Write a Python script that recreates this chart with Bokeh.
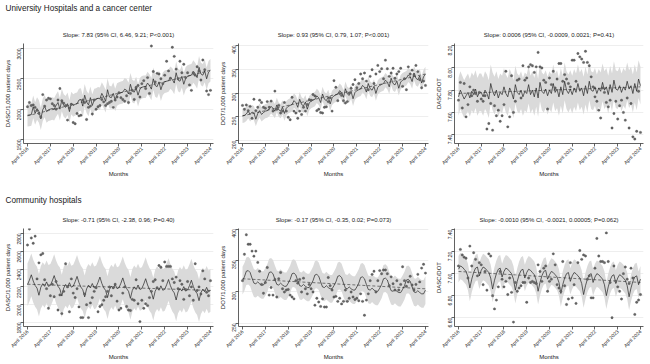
import math
import numpy as np
from bokeh.plotting import figure
from bokeh.layouts import column, row
from bokeh.models import FixedTicker, Label, Range1d, NumeralTickFormatter
from bokeh.embed import file_html
from bokeh.resources import INLINE

FONT = "Liberation Sans"

# ---------------- data ----------------
months = list(range(97))  # April 2016 .. April 2024
tick_months = [0, 12, 24, 36, 48, 60, 72, 84, 96]
tick_labels = ["April 2016", "April 2017", "April 2018", "April 2019", "April 2020",
               "April 2021", "April 2022", "April 2023", "April 2024"]
trend_x = [0, 96]

section_titles = ["University Hospitals and a cancer center", "Community hospitals"]

# University hospitals - DASC / 1,000 patient days
uh_dasc_title = "Slope: 7.83 (95% CI, 6.46, 9.21; P<0.001)"
uh_dasc_obs = [
    2040, 2110, 2060, 2070, 2030, 1980, 1930, 1870, 2240, 2050, 2150, 2180,
    2170, 2090, 2060, 2000, 2150, 2340, 2140, 2100, 2060, 1820, 2020, 2080,
    1780, 1760, 1930, 1890, 1900, 2150, 2110, 1830, 2030, 2050, 1920, 2150,
    2000, 2040, 2060, 2160, 2120, 2060, 2090, 2110, 2130, 2030, 2150, 2200,
    2270, 2190, 2160, 2130, 2220, 2110, 2260, 2310, 2160, 2360, 2390, 2200,
    2420, 2470, 2340, 2520, 2260, 3040, 2620, 2450, 2590, 2580, 2500, 2420,
    2560, 2790, 2630, 2510, 3020, 2870, 2660, 2500, 2790, 2600, 2740, 2520,
    2600, 2400, 2310, 2600, 2560, 2700, 2630, 2480, 2810, 2650, 2300, 2240,
    2310]
uh_dasc_fit = [
    1900, 1905, 1910, 2040, 1930, 2010, 1960, 1840, 1990, 2050, 1960, 1990,
    2000, 2010, 2000, 2060, 2110, 2000, 2150, 2060, 2030, 2090, 1960, 2100,
    2060, 2080, 2090, 2150, 2160, 2050, 2230, 2120, 2070, 2190, 2060, 2150,
    2160, 2180, 2170, 2260, 2200, 2130, 2320, 2200, 2190, 2260, 2150, 2240,
    2260, 2270, 2280, 2330, 2310, 2250, 2410, 2300, 2280, 2350, 2230, 2330,
    2360, 2370, 2370, 2430, 2390, 2330, 2500, 2390, 2370, 2450, 2320, 2420,
    2450, 2460, 2470, 2520, 2490, 2430, 2600, 2480, 2460, 2540, 2410, 2510,
    2540, 2550, 2560, 2620, 2580, 2520, 2690, 2580, 2560, 2630, 2500, 2610,
    2640]
uh_dasc_ci = 185
uh_dasc_trend = [1890, 2640]
uh_dasc_yticks = [1500, 2000, 2500, 3000]

# University hospitals - DOT / 1,000 patient days
uh_dot_title = "Slope: 0.93 (95% CI, 0.79, 1.07; P<0.001)"
uh_dot_obs = [
    274, 266, 275, 263, 272, 247, 287, 263, 270, 285, 280, 270,
    268, 282, 270, 283, 262, 304, 266, 274, 258, 262, 280, 262,
    249, 244, 291, 262, 258, 247, 262, 255, 270, 262, 276, 286,
    285, 297, 294, 263, 266, 259, 258, 270, 271, 282, 290, 262,
    326, 312, 284, 299, 295, 284, 279, 282, 300, 310, 318, 328,
    311, 320, 340, 330, 342, 325, 307, 335, 349, 320, 340, 358,
    345, 351, 330, 369, 351, 335, 342, 352, 331, 340, 345, 352,
    314, 330, 307, 355, 340, 348, 338, 358, 345, 328, 311, 325,
    316]
uh_dot_fit = [
    252, 253, 256, 262, 255, 260, 258, 245, 257, 263, 255, 259,
    262, 263, 266, 272, 268, 262, 275, 265, 262, 270, 257, 268,
    272, 274, 276, 284, 280, 270, 287, 276, 273, 281, 266, 279,
    283, 285, 287, 294, 290, 280, 298, 287, 284, 292, 277, 290,
    294, 296, 298, 305, 301, 291, 309, 298, 295, 303, 288, 301,
    305, 307, 309, 316, 312, 302, 320, 309, 306, 314, 299, 312,
    316, 318, 320, 327, 323, 313, 331, 320, 317, 325, 310, 323,
    327, 329, 331, 338, 334, 324, 342, 331, 328, 336, 321, 334,
    340]
uh_dot_ci = 15
uh_dot_trend = [252, 340]
uh_dot_yticks = [200, 250, 300, 350, 400]

# University hospitals - DASC/DOT
uh_ratio_title = "Slope: 0.0006 (95% CI, -0.0009, 0.0021; P=0.41)"
uh_ratio_obs = [
    7.71, 7.87, 7.64, 7.86, 7.56, 7.67, 7.83, 7.75, 7.80, 7.77, 7.70, 7.78,
    7.72, 7.70, 7.75, 7.45, 7.50, 7.68, 7.44, 7.66, 7.57, 7.62, 7.52, 7.57,
    7.67, 7.97, 7.47, 7.56, 7.93, 7.60, 7.70, 7.89, 7.90, 7.73, 8.02, 7.89,
    7.91, 8.01, 8.03, 8.02, 7.96, 8.01, 8.14, 8.01, 8.00, 7.89, 7.87, 7.63,
    7.91, 7.85, 7.97, 7.82, 7.90, 8.04, 8.04, 7.88, 7.94, 7.90, 7.86, 7.83,
    8.07, 8.07, 7.88, 8.13, 8.10, 8.08, 8.05, 8.15, 8.05, 8.02, 7.92, 7.83,
    7.74, 7.70, 7.62, 7.55, 7.82, 7.78, 7.69, 7.65, 7.71, 7.46, 7.59, 7.70,
    7.54, 7.66, 7.71, 7.60, 7.53, 7.73, 7.46, 7.68, 7.38, 7.36, 7.43, 7.79,
    7.42]
uh_ratio_fit = [
    7.74, 7.80, 7.76, 7.72, 7.75, 7.78, 7.73, 7.79, 7.76, 7.81, 7.74, 7.78,
    7.78, 7.74, 7.80, 7.77, 7.72, 7.86, 7.79, 7.75, 7.80, 7.73, 7.78, 7.76,
    7.83, 7.77, 7.74, 7.82, 7.78, 7.72, 7.85, 7.78, 7.76, 7.80, 7.74, 7.79,
    7.77, 7.85, 7.76, 7.80, 7.74, 7.82, 7.73, 7.87, 7.79, 7.77, 7.81, 7.75,
    7.80, 7.77, 7.86, 7.78, 7.81, 7.74, 7.83, 7.76, 7.88, 7.80, 7.77, 7.81,
    7.76, 7.82, 7.78, 7.86, 7.79, 7.82, 7.75, 7.84, 7.77, 7.88, 7.80, 7.79,
    7.83, 7.77, 7.82, 7.79, 7.87, 7.80, 7.83, 7.76, 7.85, 7.78, 7.89, 7.81,
    7.80, 7.84, 7.78, 7.83, 7.80, 7.88, 7.81, 7.84, 7.77, 7.86, 7.79, 7.90,
    7.84]
uh_ratio_ci = 0.17
uh_ratio_trend = [7.77, 7.83]
uh_ratio_yticks = [7.4, 7.6, 7.8, 8.0, 8.2]

# Community hospitals - DASC / 1,000 patient days
ch_dasc_title = "Slope: -0.71 (95% CI, -2.38, 0.96; P=0.40)"
ch_dasc_obs = [
    2670, 2850, 2750, 2690, 2770, 2290, 2470, 2560, 2575, 2280, 2180, 1960,
    2100, 2230, 2090, 2260, 1940, 2110, 1900, 2150, 2460, 2200, 1920, 2290,
    2130, 2080, 2180, 1975, 1855, 1855, 2120, 2000, 1855, 2020, 2080, 2150,
    2190, 1920, 1980, 2000, 2050, 2090, 2150, 2200, 2100, 2190, 2230, 2040,
    1940, 1960, 2130, 2200, 1980, 1940, 1935, 2060, 2050, 2280, 2010, 1810,
    2050, 1960, 2010, 1990, 2080, 2150, 2260, 2280, 2190, 2440, 2420, 2270,
    2480, 2430, 2430, 2430, 2290, 2250, 2310, 2180, 2270, 2230, 2060, 2170,
    2260, 2100, 2200, 2050, 2460, 2160, 2200, 2120, 2380, 2290, 2140, 2100,
    2270]
ch_dasc_fit = [
    2226, 2276, 2336, 2266, 2216, 2186, 2106, 2196, 2236, 2206, 2256, 2206,
    2217, 2267, 2327, 2257, 2207, 2177, 2097, 2187, 2227, 2197, 2247, 2197,
    2208, 2258, 2318, 2248, 2198, 2168, 2088, 2178, 2218, 2188, 2238, 2188,
    2200, 2250, 2310, 2240, 2190, 2160, 2080, 2170, 2210, 2180, 2230, 2180,
    2191, 2241, 2301, 2231, 2181, 2151, 2071, 2161, 2201, 2171, 2221, 2171,
    2182, 2232, 2292, 2222, 2172, 2142, 2062, 2152, 2192, 2162, 2212, 2162,
    2173, 2223, 2283, 2213, 2163, 2133, 2053, 2143, 2183, 2153, 2203, 2153,
    2165, 2215, 2275, 2205, 2155, 2125, 2045, 2135, 2175, 2145, 2195, 2145,
    2160]
ch_dasc_ci = 240
ch_dasc_trend = [2230, 2160]
ch_dasc_yticks = [1800, 2000, 2200, 2400, 2600, 2800]

# Community hospitals - DOT / 1,000 patient days
ch_dot_title = "Slope: -0.17 (95% CI, -0.35, 0.02; P=0.073)"
ch_dot_obs = [
    318, 360, 391, 376, 376, 365, 357, 365, 347, 333, 312, 298,
    315, 339, 295, 307, 295, 320, 292, 321, 331, 305, 300, 303,
    304, 295, 292, 289, 318, 314, 320, 300, 322, 305, 297, 312,
    305, 300, 279, 290, 284, 277, 289, 276, 276, 323, 310, 303,
    292, 293, 285, 290, 281, 285, 303, 285, 290, 300, 292, 288,
    290, 286, 297, 285, 263, 287, 297, 318, 328, 333, 300, 318,
    334, 329, 335, 335, 329, 310, 324, 313, 303, 318, 303, 312,
    340, 318, 309, 316, 325, 311, 303, 312, 328, 316, 338, 344,
    330]
ch_dot_fit = [
    318, 324, 333, 334, 331, 322, 314, 313, 316, 313, 311, 311,
    316, 322, 331, 332, 329, 320, 312, 311, 314, 311, 309, 309,
    314, 320, 329, 330, 327, 318, 310, 309, 312, 309, 307, 307,
    312, 318, 327, 328, 325, 316, 308, 307, 310, 307, 305, 305,
    310, 316, 325, 326, 323, 314, 306, 305, 308, 305, 303, 303,
    308, 314, 323, 324, 321, 312, 304, 303, 306, 303, 301, 301,
    306, 312, 321, 322, 319, 310, 302, 301, 304, 301, 299, 299,
    304, 310, 319, 320, 317, 308, 300, 299, 302, 299, 297, 297,
    303]
ch_dot_ci = 22
ch_dot_trend = [321, 305]
ch_dot_yticks = [250, 300, 350, 400]

# Community hospitals - DASC/DOT
ch_ratio_title = "Slope: -0.0010 (95% CI, -0.0021, 0.00005; P=0.062)"
ch_ratio_obs = [
    7.07, 7.22, 7.17, 7.15, 7.14, 6.96, 7.25, 7.07, 7.19, 7.13, 6.98, 7.10,
    7.08, 6.90, 7.02, 6.85, 7.18, 7.16, 6.80, 6.68, 6.76, 6.88, 7.02, 6.95,
    6.88, 6.93, 6.81, 6.96, 6.83, 6.56, 6.92, 6.84, 6.87, 6.89, 6.92, 6.92,
    6.74, 6.96, 6.92, 6.93, 6.92, 6.91, 7.08, 7.02, 6.93, 7.05, 7.07, 6.84,
    6.93, 6.95, 7.18, 7.08, 6.90, 6.87, 6.84, 7.11, 6.89, 6.72, 6.77, 7.10,
    6.78, 6.90, 6.73, 7.10, 7.21, 7.13, 7.17, 7.16, 6.95, 6.98, 6.78, 6.78,
    7.05, 7.32, 7.16, 7.11, 7.11, 7.10, 7.37, 7.11, 6.92, 6.60, 7.07, 6.93,
    6.88, 6.84, 6.77, 7.00, 7.06, 6.95, 6.91, 7.05, 6.96, 6.63, 6.74, 6.76,
    6.81]
ch_ratio_fit = [
    7.04, 7.07, 7.06, 7.04, 7.02, 6.97, 6.87, 6.95, 7.01, 7.05, 7.06, 6.98,
    7.03, 7.06, 7.05, 7.03, 7.01, 6.96, 6.86, 6.94, 7.00, 7.04, 7.05, 6.97,
    7.02, 7.05, 7.04, 7.02, 7.00, 6.95, 6.85, 6.93, 6.99, 7.03, 7.04, 6.96,
    7.01, 7.04, 7.03, 7.01, 6.99, 6.94, 6.84, 6.92, 6.98, 7.02, 7.03, 6.95,
    6.99, 7.02, 7.01, 6.99, 6.97, 6.92, 6.82, 6.90, 6.96, 7.00, 7.01, 6.93,
    6.98, 7.01, 7.00, 6.98, 6.96, 6.91, 6.81, 6.89, 6.95, 6.99, 7.00, 6.92,
    6.97, 7.00, 6.99, 6.97, 6.95, 6.90, 6.80, 6.88, 6.94, 6.98, 6.99, 6.91,
    6.96, 6.99, 6.98, 6.96, 6.94, 6.89, 6.79, 6.87, 6.93, 6.97, 6.98, 6.90,
    6.95]
ch_ratio_ci = 0.12
ch_ratio_trend = [7.02, 6.92]
ch_ratio_yticks = [6.6, 6.8, 7.0, 7.2, 7.4]

# ---------------- drawing ----------------
X_RANGE = (-2.1, 97.6)


def make_panel(title, obs, fit, ci, trend, yticks, yrange, ylabel, fmt,
               width, height, left, right, top, bottom, standoff):
    p = figure(width=width, height=height, x_range=Range1d(*X_RANGE),
               y_range=Range1d(*yrange), output_backend="svg",
               toolbar_location=None, min_border_left=left,
               min_border_right=right, min_border_top=top,
               min_border_bottom=bottom, title=title,
               outline_line_color=None, background_fill_color="white",
               border_fill_color="white")
    p.title.align = "center"
    p.title.text_font = FONT
    p.title.text_font_size = "6px"
    p.title.text_font_style = "normal"
    p.title.text_color = "#1a1a1a"
    p.title.standoff = standoff

    fit_arr = np.array(fit, dtype=float)
    p.varea(x=months, y1=fit_arr - ci, y2=fit_arr + ci,
            fill_color="#dadada", fill_alpha=1.0)
    p.line(x=trend_x, y=trend, line_color="#444444", line_width=0.7,
           line_dash="3 2")
    p.line(x=months, y=fit, line_color="#222222", line_width=0.7)
    p.scatter(x=months, y=obs, size=2.4, fill_color="#666666",
              line_color="#444444", line_width=0.3)

    xa = p.xaxis[0]
    xa.ticker = FixedTicker(ticks=tick_months)
    xa.major_label_overrides = {m: lab for m, lab in zip(tick_months, tick_labels)}
    xa.major_label_orientation = math.pi / 4
    xa.axis_label = "Months"

    ya = p.yaxis[0]
    ya.ticker = FixedTicker(ticks=yticks)
    ya.formatter = NumeralTickFormatter(format=fmt)
    ya.major_label_orientation = math.pi / 2
    ya.axis_label = ylabel

    for ax in (xa, ya):
        ax.axis_line_color = "#3a3a3a"
        ax.axis_line_width = 0.8
        ax.major_tick_line_color = "#3a3a3a"
        ax.major_tick_line_width = 0.8
        ax.major_tick_out = 3
        ax.major_tick_in = 0
        ax.minor_tick_line_color = None
        ax.major_label_text_font = FONT
        ax.major_label_text_font_size = "5px"
        ax.major_label_text_color = "#1a1a1a"
        ax.axis_label_text_font = FONT
        ax.axis_label_text_font_size = "6px"
        ax.axis_label_text_font_style = "normal"
        ax.axis_label_text_color = "#1a1a1a"
    xa.major_label_standoff = 1
    xa.axis_label_standoff = 0
    ya.major_label_standoff = 1
    ya.axis_label_standoff = 2

    p.xgrid.visible = False
    p.ygrid.grid_line_color = "#e6e6e6"
    p.ygrid.grid_line_width = 0.7
    return p


def header(text, height, y_from_bottom):
    h = figure(width=650, height=height, x_range=Range1d(0, 1),
               y_range=Range1d(0, 1), output_backend="svg",
               toolbar_location=None, min_border=0, x_axis_type=None,
               y_axis_type=None, outline_line_color=None)
    h.add_layout(Label(x=5, y=y_from_bottom, x_units="screen",
                       y_units="screen", text=text, text_font=FONT,
                       text_font_size="8.2px", text_baseline="middle",
                       text_color="#1a1a1a"))
    return h


widths = [216, 216, 218]
lefts = [23, 22, 21]
rights = [3, 4, 7]

top_specs = [
    (uh_dasc_title, uh_dasc_obs, uh_dasc_fit, uh_dasc_ci, uh_dasc_trend,
     uh_dasc_yticks, (1434, 3082), "DASC/1,000 patient days", "0"),
    (uh_dot_title, uh_dot_obs, uh_dot_fit, uh_dot_ci, uh_dot_trend,
     uh_dot_yticks, (194, 404), "DOT/1,000 patient days", "0"),
    (uh_ratio_title, uh_ratio_obs, uh_ratio_fit, uh_ratio_ci, uh_ratio_trend,
     uh_ratio_yticks, (7.32, 8.22), "DASC/DOT", "0.00"),
]
bot_specs = [
    (ch_dasc_title, ch_dasc_obs, ch_dasc_fit, ch_dasc_ci, ch_dasc_trend,
     ch_dasc_yticks, (1755, 2856), "DASC/1,000 patient days", "0"),
    (ch_dot_title, ch_dot_obs, ch_dot_fit, ch_dot_ci, ch_dot_trend,
     ch_dot_yticks, (245, 401), "DOT/1,000 patient days", "0"),
    (ch_ratio_title, ch_ratio_obs, ch_ratio_fit, ch_ratio_ci, ch_ratio_trend,
     ch_ratio_yticks, (6.52, 7.41), "DASC/DOT", "0.00"),
]

top_row = [make_panel(*s, width=w, height=170, left=l, right=r, top=25,
                      bottom=45, standoff=12)
           for s, w, l, r in zip(top_specs, widths, lefts, rights)]
bot_row = [make_panel(*s, width=w, height=158, left=l, right=r, top=22,
                      bottom=38, standoff=12)
           for s, w, l, r in zip(bot_specs, widths, lefts, rights)]

layout = column(header(section_titles[0], 18, 10),
                row(*top_row, spacing=0),
                header(section_titles[1], 18, 6),
                row(*bot_row, spacing=0),
                spacing=0)

open("out.html", "w").write(file_html(layout, INLINE))
